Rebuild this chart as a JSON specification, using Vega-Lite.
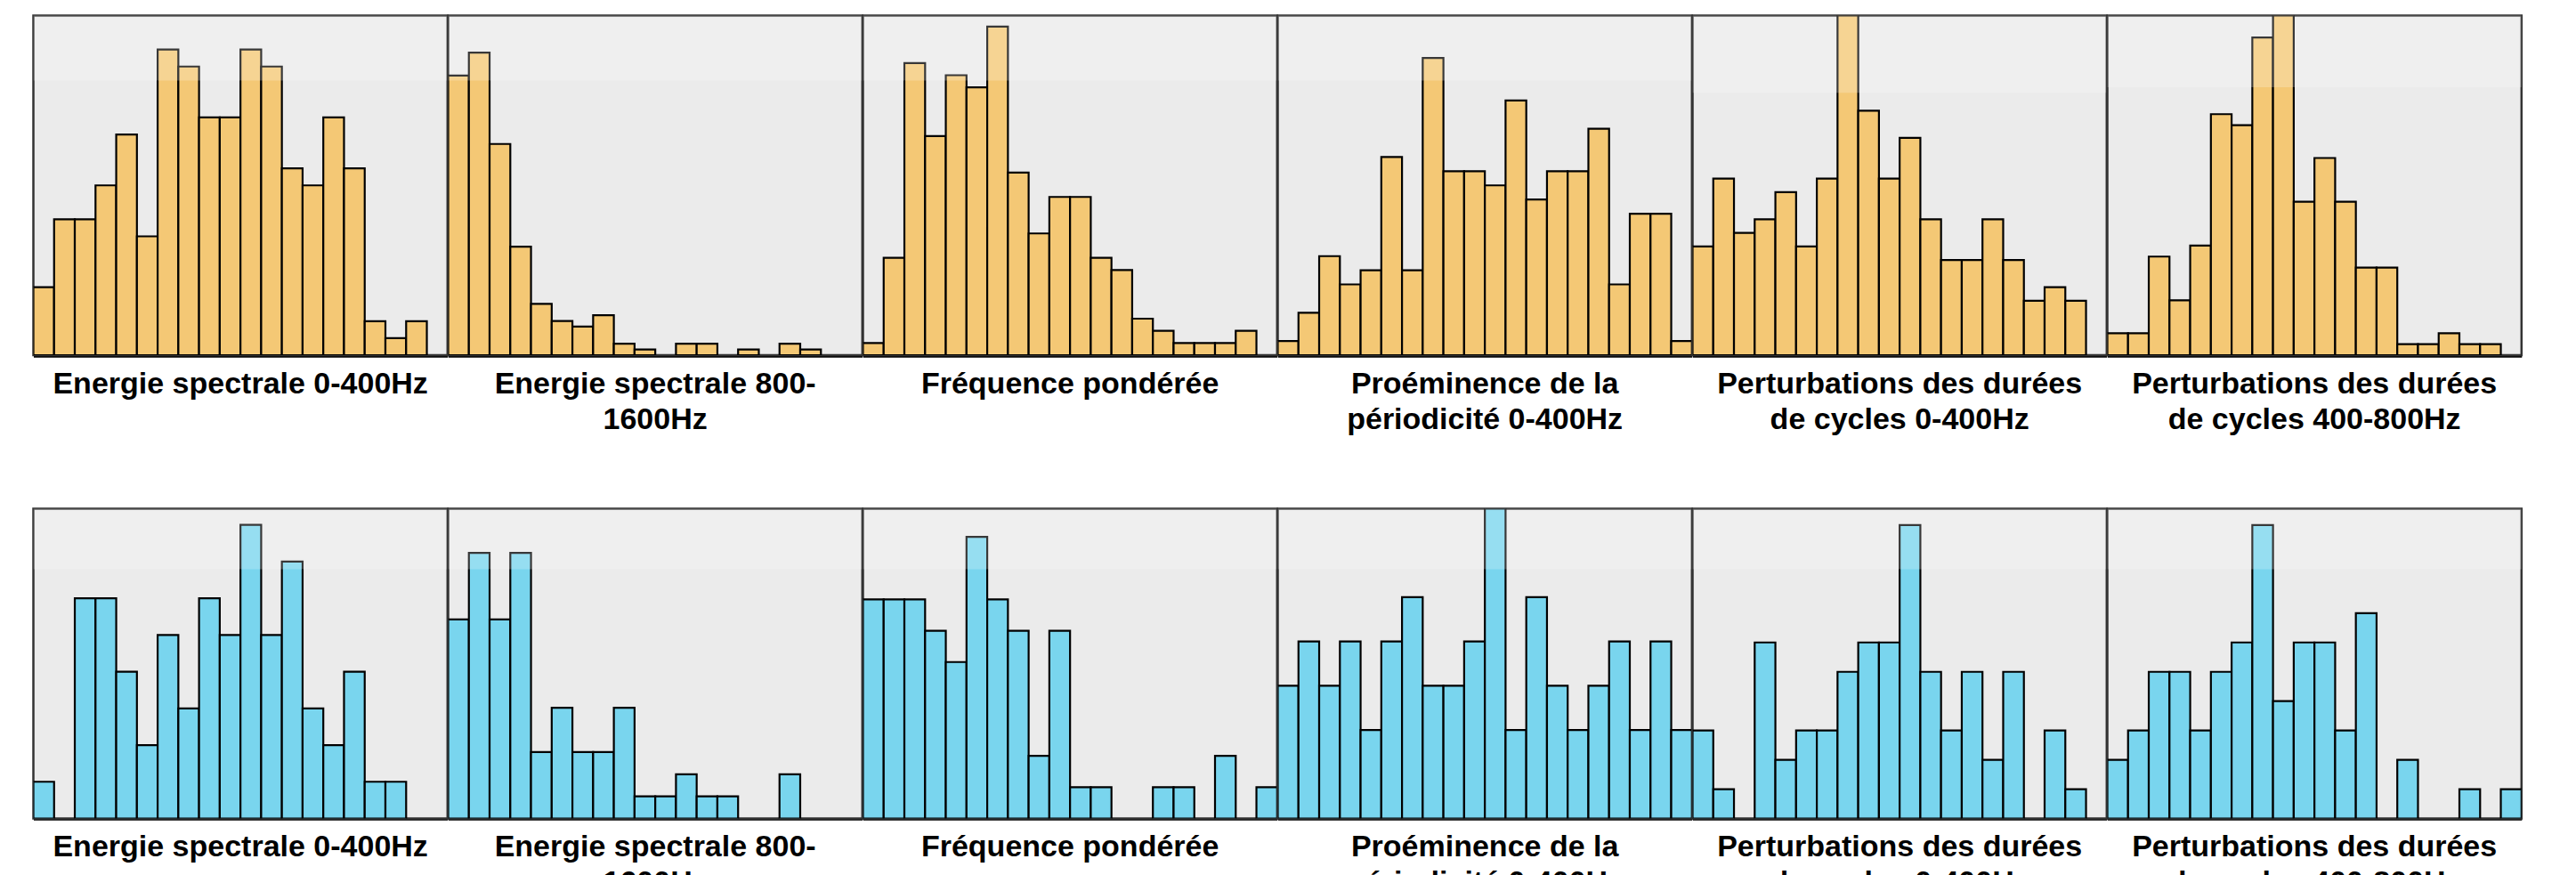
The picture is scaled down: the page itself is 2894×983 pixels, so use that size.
{
  "$schema": "https://vega.github.io/schema/vega-lite/v6.json",
  "background": "white",
  "padding": {"left": 35.5, "top": 15.5, "right": 0, "bottom": 0},
  "spacing": 81,
  "config": {
    "view": {"stroke": "#333333", "strokeWidth": 2.5, "fill": "#ebebeb"},
    "header": {
      "title": null,
      "labelOrient": "bottom",
      "labelFont": "Liberation Sans, Arial, sans-serif",
      "labelFontWeight": "bold",
      "labelFontSize": 34,
      "labelColor": "black",
      "labelPadding": 15,
      "labelLineHeight": 40,
      "labelBaseline": "top",
      "labelExpr": "[['Energie spectrale 0-400Hz'],['Energie spectrale 800-','1600Hz'],['Fréquence pondérée'],['Proéminence de la','périodicité 0-400Hz'],['Perturbations des durées','de cycles 0-400Hz'],['Perturbations des durées','de cycles 400-800Hz']][datum.value - 1]"
    },
    "axisX": {"labels": false, "ticks": false, "title": null, "grid": false, "domainColor": "black", "domainWidth": 3.5}
  },
  "datasets": {
    "A": [
      {"c":1,"top":20},{"c":2,"top":59.5},{"c":3,"top":27.9},{"c":4,"top":24},{"c":5,"top":24.1},{"c":6,"top":30.4},
      {"c":1,"b":1,"n":4},{"c":1,"b":2,"n":8},{"c":1,"b":3,"n":8},{"c":1,"b":4,"n":10},{"c":1,"b":5,"n":13},{"c":1,"b":6,"n":7},{"c":1,"b":7,"n":18},{"c":1,"b":8,"n":17},{"c":1,"b":9,"n":14},{"c":1,"b":10,"n":14},{"c":1,"b":11,"n":18},{"c":1,"b":12,"n":17},{"c":1,"b":13,"n":11},{"c":1,"b":14,"n":10},{"c":1,"b":15,"n":14},{"c":1,"b":16,"n":11},{"c":1,"b":17,"n":2},{"c":1,"b":18,"n":1},{"c":1,"b":19,"n":2},
      {"c":2,"b":1,"n":49},{"c":2,"b":2,"n":53},{"c":2,"b":3,"n":37},{"c":2,"b":4,"n":19},{"c":2,"b":5,"n":9},{"c":2,"b":6,"n":6},{"c":2,"b":7,"n":5},{"c":2,"b":8,"n":7},{"c":2,"b":9,"n":2},{"c":2,"b":10,"n":1},{"c":2,"b":12,"n":2},{"c":2,"b":13,"n":2},{"c":2,"b":15,"n":1},{"c":2,"b":17,"n":2},{"c":2,"b":18,"n":1},
      {"c":3,"b":1,"n":1},{"c":3,"b":2,"n":8},{"c":3,"b":3,"n":24},{"c":3,"b":4,"n":18},{"c":3,"b":5,"n":23},{"c":3,"b":6,"n":22},{"c":3,"b":7,"n":27},{"c":3,"b":8,"n":15},{"c":3,"b":9,"n":10},{"c":3,"b":10,"n":13},{"c":3,"b":11,"n":13},{"c":3,"b":12,"n":8},{"c":3,"b":13,"n":7},{"c":3,"b":14,"n":3},{"c":3,"b":15,"n":2},{"c":3,"b":16,"n":1},{"c":3,"b":17,"n":1},{"c":3,"b":18,"n":1},{"c":3,"b":19,"n":2},
      {"c":4,"b":1,"n":1},{"c":4,"b":2,"n":3},{"c":4,"b":3,"n":7},{"c":4,"b":4,"n":5},{"c":4,"b":5,"n":6},{"c":4,"b":6,"n":14},{"c":4,"b":7,"n":6},{"c":4,"b":8,"n":21},{"c":4,"b":9,"n":13},{"c":4,"b":10,"n":13},{"c":4,"b":11,"n":12},{"c":4,"b":12,"n":18},{"c":4,"b":13,"n":11},{"c":4,"b":14,"n":13},{"c":4,"b":15,"n":13},{"c":4,"b":16,"n":16},{"c":4,"b":17,"n":5},{"c":4,"b":18,"n":10},{"c":4,"b":19,"n":10},{"c":4,"b":20,"n":1},
      {"c":5,"b":1,"n":8},{"c":5,"b":2,"n":13},{"c":5,"b":3,"n":9},{"c":5,"b":4,"n":10},{"c":5,"b":5,"n":12},{"c":5,"b":6,"n":8},{"c":5,"b":7,"n":13},{"c":5,"b":8,"n":25},{"c":5,"b":9,"n":18},{"c":5,"b":10,"n":13},{"c":5,"b":11,"n":16},{"c":5,"b":12,"n":10},{"c":5,"b":13,"n":7},{"c":5,"b":14,"n":7},{"c":5,"b":15,"n":10},{"c":5,"b":16,"n":7},{"c":5,"b":17,"n":4},{"c":5,"b":18,"n":5},{"c":5,"b":19,"n":4},
      {"c":6,"b":1,"n":2},{"c":6,"b":2,"n":2},{"c":6,"b":3,"n":9},{"c":6,"b":4,"n":5},{"c":6,"b":5,"n":10},{"c":6,"b":6,"n":22},{"c":6,"b":7,"n":21},{"c":6,"b":8,"n":29},{"c":6,"b":9,"n":31},{"c":6,"b":10,"n":14},{"c":6,"b":11,"n":18},{"c":6,"b":12,"n":14},{"c":6,"b":13,"n":8},{"c":6,"b":14,"n":8},{"c":6,"b":15,"n":1},{"c":6,"b":16,"n":1},{"c":6,"b":17,"n":2},{"c":6,"b":18,"n":1},{"c":6,"b":19,"n":1}
    ],
    "B": [
      {"c":1,"top":8.44},{"c":2,"top":14.0},{"c":3,"top":9.9},{"c":4,"top":7.0},{"c":5,"top":10.56},{"c":6,"top":10.56},
      {"c":1,"b":1,"n":1},{"c":1,"b":3,"n":6},{"c":1,"b":4,"n":6},{"c":1,"b":5,"n":4},{"c":1,"b":6,"n":2},{"c":1,"b":7,"n":5},{"c":1,"b":8,"n":3},{"c":1,"b":9,"n":6},{"c":1,"b":10,"n":5},{"c":1,"b":11,"n":8},{"c":1,"b":12,"n":5},{"c":1,"b":13,"n":7},{"c":1,"b":14,"n":3},{"c":1,"b":15,"n":2},{"c":1,"b":16,"n":4},{"c":1,"b":17,"n":1},{"c":1,"b":18,"n":1},
      {"c":2,"b":1,"n":9},{"c":2,"b":2,"n":12},{"c":2,"b":3,"n":9},{"c":2,"b":4,"n":12},{"c":2,"b":5,"n":3},{"c":2,"b":6,"n":5},{"c":2,"b":7,"n":3},{"c":2,"b":8,"n":3},{"c":2,"b":9,"n":5},{"c":2,"b":10,"n":1},{"c":2,"b":11,"n":1},{"c":2,"b":12,"n":2},{"c":2,"b":13,"n":1},{"c":2,"b":14,"n":1},{"c":2,"b":17,"n":2},
      {"c":3,"b":1,"n":7},{"c":3,"b":2,"n":7},{"c":3,"b":3,"n":7},{"c":3,"b":4,"n":6},{"c":3,"b":5,"n":5},{"c":3,"b":6,"n":9},{"c":3,"b":7,"n":7},{"c":3,"b":8,"n":6},{"c":3,"b":9,"n":2},{"c":3,"b":10,"n":6},{"c":3,"b":11,"n":1},{"c":3,"b":12,"n":1},{"c":3,"b":15,"n":1},{"c":3,"b":16,"n":1},{"c":3,"b":18,"n":2},{"c":3,"b":20,"n":1},
      {"c":4,"b":1,"n":3},{"c":4,"b":2,"n":4},{"c":4,"b":3,"n":3},{"c":4,"b":4,"n":4},{"c":4,"b":5,"n":2},{"c":4,"b":6,"n":4},{"c":4,"b":7,"n":5},{"c":4,"b":8,"n":3},{"c":4,"b":9,"n":3},{"c":4,"b":10,"n":4},{"c":4,"b":11,"n":7},{"c":4,"b":12,"n":2},{"c":4,"b":13,"n":5},{"c":4,"b":14,"n":3},{"c":4,"b":15,"n":2},{"c":4,"b":16,"n":3},{"c":4,"b":17,"n":4},{"c":4,"b":18,"n":2},{"c":4,"b":19,"n":4},{"c":4,"b":20,"n":2},
      {"c":5,"b":1,"n":3},{"c":5,"b":2,"n":1},{"c":5,"b":4,"n":6},{"c":5,"b":5,"n":2},{"c":5,"b":6,"n":3},{"c":5,"b":7,"n":3},{"c":5,"b":8,"n":5},{"c":5,"b":9,"n":6},{"c":5,"b":10,"n":6},{"c":5,"b":11,"n":10},{"c":5,"b":12,"n":5},{"c":5,"b":13,"n":3},{"c":5,"b":14,"n":5},{"c":5,"b":15,"n":2},{"c":5,"b":16,"n":5},{"c":5,"b":18,"n":3},{"c":5,"b":19,"n":1},
      {"c":6,"b":1,"n":2},{"c":6,"b":2,"n":3},{"c":6,"b":3,"n":5},{"c":6,"b":4,"n":5},{"c":6,"b":5,"n":3},{"c":6,"b":6,"n":5},{"c":6,"b":7,"n":6},{"c":6,"b":8,"n":10},{"c":6,"b":9,"n":4},{"c":6,"b":10,"n":6},{"c":6,"b":11,"n":6},{"c":6,"b":12,"n":3},{"c":6,"b":13,"n":7},{"c":6,"b":15,"n":2},{"c":6,"b":18,"n":1},{"c":6,"b":20,"n":1}
    ]
  },
  "vconcat": [
    {
      "data": {"name": "A"},
      "facet": {"column": {"field": "c", "type": "ordinal"}},
      "spacing": 0,
      "bounds": "flush",
      "resolve": {"scale": {"y": "independent"}},
      "spec": {
        "width": 465.3,
        "height": 381.5,
        "layer": [
          {
            "transform": [{"filter": "isValid(datum.n)"}],
            "mark": {"type": "bar", "fill": "#f4c875", "stroke": "black", "strokeWidth": 2.2, "clip": true},
            "encoding": {
              "x": {"field": "b", "type": "ordinal", "scale": {"domain": [1,2,3,4,5,6,7,8,9,10,11,12,13,14,15,16,17,18,19,20], "paddingInner": 0, "paddingOuter": 0}},
              "y": {"field": "n", "type": "quantitative", "scale": {"nice": false, "zero": true}, "axis": null}
            }
          },
          {
            "transform": [{"filter": "isValid(datum.top)"}],
            "mark": {"type": "rect", "fill": "white", "opacity": 0.22, "height": 146, "clip": true},
            "encoding": {
              "y": {"field": "top", "type": "quantitative", "axis": null}
            }
          }
        ]
      }
    },
    {
      "data": {"name": "B"},
      "facet": {"column": {"field": "c", "type": "ordinal"}},
      "spacing": 0,
      "bounds": "flush",
      "resolve": {"scale": {"y": "independent"}},
      "spec": {
        "width": 465.3,
        "height": 348,
        "layer": [
          {
            "transform": [{"filter": "isValid(datum.n)"}],
            "mark": {"type": "bar", "fill": "#79d5ee", "stroke": "black", "strokeWidth": 2.2, "clip": true},
            "encoding": {
              "x": {"field": "b", "type": "ordinal", "scale": {"domain": [1,2,3,4,5,6,7,8,9,10,11,12,13,14,15,16,17,18,19,20], "paddingInner": 0, "paddingOuter": 0}},
              "y": {"field": "n", "type": "quantitative", "scale": {"nice": false, "zero": true}, "axis": null}
            }
          },
          {
            "transform": [{"filter": "isValid(datum.top)"}],
            "mark": {"type": "rect", "fill": "white", "opacity": 0.22, "height": 136, "clip": true},
            "encoding": {
              "y": {"field": "top", "type": "quantitative", "axis": null}
            }
          }
        ]
      }
    }
  ]
}
